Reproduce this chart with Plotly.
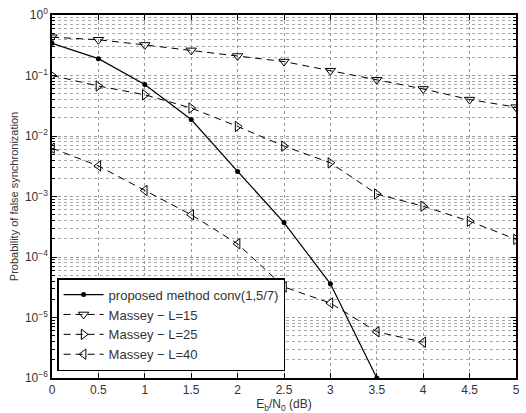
import plotly.graph_objects as go

ebno = [0, 0.5, 1, 1.5, 2, 2.5, 3, 3.5, 4, 4.5, 5]

proposed_x = [0, 0.5, 1, 1.5, 2, 2.5, 3, 3.5]
proposed_y = [0.34, 0.19, 0.071, 0.0187, 0.0026, 3.7e-4, 3.6e-5, 1.0e-6]

l15_x = ebno
l15_y = [0.43, 0.39, 0.32, 0.26, 0.21, 0.17, 0.12, 0.085, 0.06, 0.04, 0.030]

l25_x = ebno
l25_y = [0.10, 0.067, 0.048, 0.029, 0.0144, 0.0068, 0.0036, 0.0011, 6.9e-4, 3.9e-4, 1.96e-4]

l40_x = [0, 0.5, 1, 1.5, 2, 2.5, 3, 3.5, 4]
l40_y = [0.0063, 0.0032, 0.00126, 5.0e-4, 1.65e-4, 3.2e-5, 1.73e-5, 5.8e-6, 3.9e-6]

names = ["proposed method conv(1,5/7)", "Massey \u2212 L=15", "Massey \u2212 L=25", "Massey \u2212 L=40"]

x_ticks = [0, 0.5, 1, 1.5, 2, 2.5, 3, 3.5, 4, 4.5, 5]
x_ticktext = ["0", "0.5", "1", "1.5", "2", "2.5", "3", "3.5", "4", "4.5", "5"]
y_decades = [-6, -5, -4, -3, -2, -1, 0]

fig = go.Figure()
dash = "7px,5px"
fig.add_trace(go.Scatter(x=proposed_x, y=proposed_y, name=names[0], mode="lines+markers",
                         line=dict(color="black", width=1.2),
                         marker=dict(symbol="circle", size=5, color="black")))
fig.add_trace(go.Scatter(x=l15_x, y=l15_y, name=names[1], mode="lines+markers",
                         line=dict(color="black", width=1, dash=dash),
                         marker=dict(symbol="triangle-down-open", size=9, color="black", line=dict(width=1))))
fig.add_trace(go.Scatter(x=l25_x, y=l25_y, name=names[2], mode="lines+markers",
                         line=dict(color="black", width=1, dash=dash),
                         marker=dict(symbol="triangle-right-open", size=9, color="black", line=dict(width=1))))
fig.add_trace(go.Scatter(x=l40_x, y=l40_y, name=names[3], mode="lines+markers",
                         line=dict(color="black", width=1, dash=dash),
                         marker=dict(symbol="triangle-left-open", size=9, color="black", line=dict(width=1))))

minor_y = [k * 10 ** d for d in range(-6, 0) for k in range(2, 10)]

fig.update_layout(
    width=526, height=413,
    margin=dict(l=52, r=6, t=9, b=33),
    paper_bgcolor="white", plot_bgcolor="white",
    font=dict(family="Arial, Liberation Sans, sans-serif", size=12, color="#333"),
    showlegend=True,
    legend=dict(x=0.011, y=0.019, xanchor="left", yanchor="bottom",
                bgcolor="white", bordercolor="black", borderwidth=1.5,
                font=dict(family="Arial, Liberation Sans, sans-serif", size=13, color="#333"),
                tracegroupgap=0, itemwidth=40),
    xaxis=dict(range=[0, 5], tickvals=x_ticks, ticktext=x_ticktext,
               showgrid=True, gridcolor="#999", griddash="dot", gridwidth=1,
               ticks="inside", ticklen=5, tickcolor="black",
               showline=True, linecolor="black", linewidth=1.5, mirror="ticks",
               zeroline=False, tickfont=dict(size=12),
               title=dict(text="E<sub>b</sub>/N<sub>0</sub> (dB)", standoff=1, font=dict(size=12))),
    yaxis=dict(type="log", range=[-6, 0],
               tickvals=[10 ** d for d in y_decades],
               ticktext=["10<sup>%d</sup>" % d if d == 0 else "10<sup>\u2212%d</sup>" % (-d) for d in y_decades],
               showgrid=True, gridcolor="#999", griddash="dot", gridwidth=1,
               ticks="inside", ticklen=5, tickcolor="black",
               showline=True, linecolor="black", linewidth=1.5, mirror="ticks",
               zeroline=False, tickfont=dict(size=12),
               minor=dict(tickvals=minor_y, showgrid=True, gridcolor="#aaa", griddash="dot",
                          ticks="inside", ticklen=3, tickcolor="black"),
               title=dict(text="Probability of false synchronization", standoff=4, font=dict(size=11))),
)

fig.write_html("out.html")
